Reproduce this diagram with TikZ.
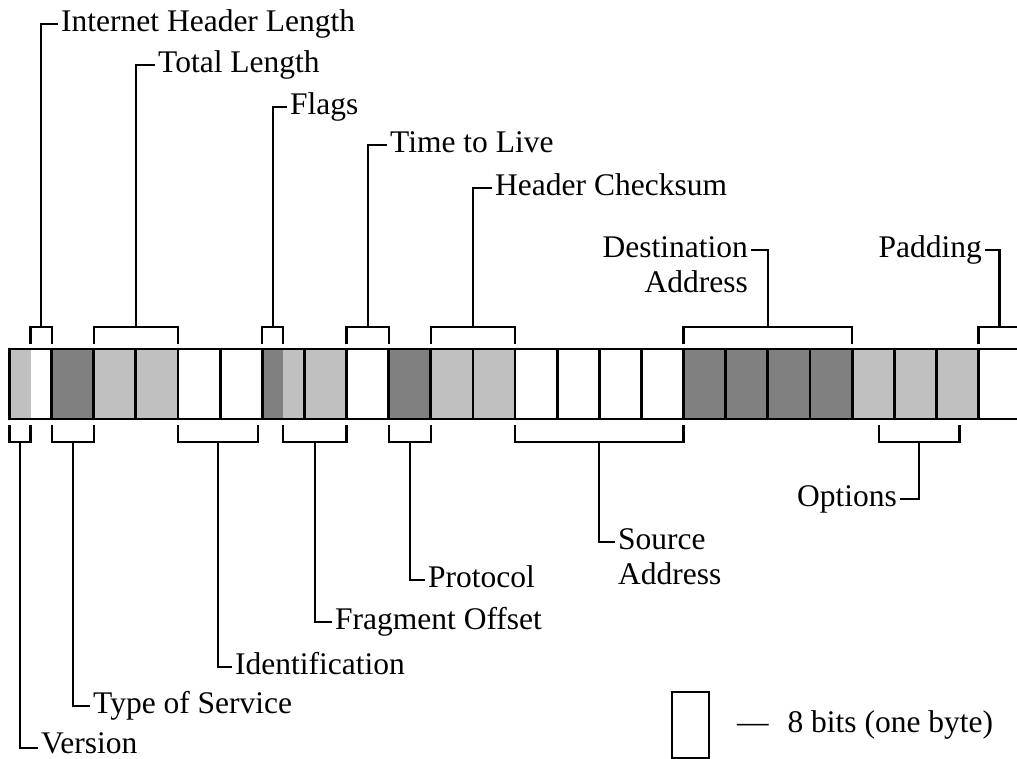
\documentclass[tikz,border=0pt]{standalone}
\usepackage{fontspec}
\setmainfont{Liberation Serif}
\usetikzlibrary{positioning, calc}
\definecolor{fieldlight}{RGB}{192,192,192}
\definecolor{fielddark}{RGB}{128,128,128}
\tikzset{
byte/.style={draw, line width=2.8pt, fill=white, minimum width=42.13pt, minimum height=70pt, inner sep=0pt, outer sep=0pt, on grid}, % one 8-bit cell of the header
light/.style={fill=fieldlight}, % light grey field
dark/.style={fill=fielddark}, % dark grey field
halfleft/.style={path picture={\fill[#1] (path picture bounding box.south west) rectangle (path picture bounding box.north);}}, % 4-bit field in the left half
brace/.style={line width=2.2pt}, % brackets and leader lines
tag/.style={font=\fontsize{31.5}{36}\selectfont, inner sep=3pt, text height=21.5pt, text depth=7pt}, % field names
}
\begin{document}
\begin{tikzpicture}[x=1pt, y=-1pt, node distance=42.13pt]
    \useasboundingbox (0,0) rectangle (1017,759);

    % the header, one byte per cell
    \node[byte, halfleft=fieldlight] (b0) at (30.57,384) {};
    \node[byte, dark, right=of b0] (b1) {};
    \node[byte, light, right=of b1] (b2) {};
    \node[byte, light, right=of b2] (b3) {};
    \node[byte, right=of b3] (b4) {};
    \node[byte, right=of b4] (b5) {};
    \node[byte, light, halfleft=fielddark, right=of b5] (b6) {};
    \node[byte, light, right=of b6] (b7) {};
    \node[byte, right=of b7] (b8) {};
    \node[byte, dark, right=of b8] (b9) {};
    \node[byte, light, right=of b9] (b10) {};
    \node[byte, light, right=of b10] (b11) {};
    \node[byte, right=of b11] (b12) {};
    \node[byte, right=of b12] (b13) {};
    \node[byte, right=of b13] (b14) {};
    \node[byte, right=of b14] (b15) {};
    \node[byte, dark, right=of b15] (b16) {};
    \node[byte, dark, right=of b16] (b17) {};
    \node[byte, dark, right=of b17] (b18) {};
    \node[byte, dark, right=of b18] (b19) {};
    \node[byte, light, right=of b19] (b20) {};
    \node[byte, light, right=of b20] (b21) {};
    \node[byte, light, right=of b21] (b22) {};
    \node[byte, right=of b22] (b23) {};

    % labels above
    \node[tag, anchor=west] (ihl) at (58,24) {Internet Header Length};
    \node[tag, anchor=west] (tot) at (155,65) {Total Length};
    \node[tag, anchor=west] (flg) at (287,107) {Flags};
    \node[tag, anchor=west] (ttl) at (387,145) {Time to Live};
    \node[tag, anchor=west] (hcs) at (492,188) {Header Checksum};
    \node[tag, anchor=east] (dst) at (751,250) {Destination};
    \node[tag, anchor=north east] (dst2) at (dst.south east) {Address};
    \node[tag, anchor=east] (pad) at (985,250) {Padding};

    % labels below
    \node[tag, text depth=0pt, anchor=base west] (ver) at (38,753) {Version};
    \node[tag, anchor=west] (tos) at (90,706) {Type of Service};
    \node[tag, anchor=west] (idt) at (232,667) {Identification};
    \node[tag, anchor=west] (frg) at (332,622) {Fragment Offset};
    \node[tag, anchor=west] (prt) at (425,580) {Protocol};
    \node[tag, anchor=west] (src) at (615,542) {Source};
    \node[tag, anchor=north west] (src2) at (src.south west) {Address};
    \node[tag, anchor=east] (opt) at (900,499) {Options};

    % top brackets
    \draw[brace] ([yshift=5pt]b0.north) -- ++(0,-17) -| ([yshift=5pt]b0.north east);
    \draw[brace] ($(b0.north)!.5!(b0.north east)+(0,-22)$) |- (ihl.west);
    \draw[brace] ([yshift=5pt]b2.north west) -- ++(0,-17) -| ([yshift=5pt]b3.north east);
    \draw[brace] ($(b2.north west)!.5!(b3.north east)+(0,-22)$) |- (tot.west);
    \draw[brace] ([yshift=5pt]b6.north west) -- ++(0,-17) -| ([yshift=5pt]b6.north);
    \draw[brace] ($(b6.north west)!.5!(b6.north)+(0,-22)$) |- (flg.west);
    \draw[brace] ([yshift=5pt]b8.north west) -- ++(0,-17) -| ([yshift=5pt]b8.north east);
    \draw[brace] ($(b8.north west)!.5!(b8.north east)+(0,-22)$) |- (ttl.west);
    \draw[brace] ([yshift=5pt]b10.north west) -- ++(0,-17) -| ([yshift=5pt]b11.north east);
    \draw[brace] ($(b10.north west)!.5!(b11.north east)+(0,-22)$) |- (hcs.west);
    \draw[brace] ([yshift=5pt]b16.north west) -- ++(0,-17) -| ([yshift=5pt]b19.north east);
    \draw[brace] ($(b16.north west)!.5!(b19.north east)+(0,-22)$) |- (dst.east);
    \draw[brace] ([yshift=5pt]b23.north west) -- ++(0,-17) -| ([yshift=5pt]b23.north east);
    \draw[brace] ($(b23.north west)!.5!(b23.north east)+(0,-22)$) |- (pad.east);

    % bottom brackets
    \draw[brace] ([yshift=-6pt]b0.south west) -- ++(0,17) -| ([yshift=-6pt]b0.south);
    \draw[brace] ($(b0.south west)!.5!(b0.south)+(0,23)$) |- ([yshift=5pt]ver.base west);
    \draw[brace] ([yshift=-6pt]b1.south west) -- ++(0,17) -| ([yshift=-6pt]b1.south east);
    \draw[brace] ($(b1.south west)!.5!(b1.south east)+(0,23)$) |- (tos.west);
    \draw[brace] ([yshift=-6pt]b4.south west) -- ++(0,17) -| ([xshift=-4pt,yshift=-6pt]b5.south east);
    \draw[brace] ($(b4.south west)!.5!([xshift=-4pt]b5.south east)+(0,23)$) |- (idt.west);
    \draw[brace] ([yshift=-6pt]b6.south) -- ++(0,17) -| ([yshift=-6pt]b7.south east);
    \draw[brace] ($(b6.south)!.5!(b7.south east)+(0,23)$) |- (frg.west);
    \draw[brace] ([yshift=-6pt]b9.south west) -- ++(0,17) -| ([yshift=-6pt]b9.south east);
    \draw[brace] ($(b9.south west)!.5!(b9.south east)+(0,23)$) |- (prt.west);
    \draw[brace] ([yshift=-6pt]b12.south west) -- ++(0,17) -| ([yshift=-6pt]b15.south east);
    \draw[brace] ($(b12.south west)!.5!(b15.south east)+(0,23)$) |- (src.west);
    \draw[brace] ([xshift=6pt,yshift=-6pt]b20.south) -- ++(0,17) -| ([xshift=2pt,yshift=-6pt]b22.south);
    \draw[brace] ($([xshift=6pt]b20.south)!.5!([xshift=2pt]b22.south)+(0,23)$) |- (opt.east);

    % legend
    \node[draw, line width=2.2pt, minimum width=37pt, minimum height=66pt, outer sep=0pt] (key) at (690.5,725) {};
    \node[tag, right=25pt of key] (keytxt) {—\hspace{0.6em}8 bits (one byte)};
\end{tikzpicture}
\end{document}
